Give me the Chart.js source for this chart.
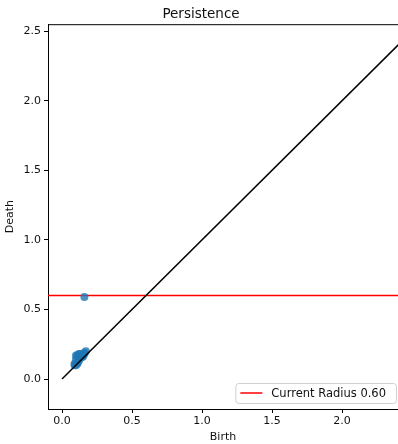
<!DOCTYPE html>
<html>
<head>
<meta charset="utf-8">
<script src="https://cdn.jsdelivr.net/npm/chart.js@4.4.1/dist/chart.umd.min.js"></script>
<style>
  html, body { margin: 0; padding: 0; background: #fff; overflow: hidden; }
  #wrap { width: 398px; height: 444px; overflow: hidden; }
</style>
</head>
<body>
<div id="wrap"><canvas id="persistenceChart" width="402" height="444"></canvas></div>
<script>
// persistence pairs
const birth = [0.09, 0.10, 0.11, 0.12, 0.13, 0.14, 0.15, 0.16, 0.17, 0.10, 0.11, 0.12, 0.13, 0.14, 0.09, 0.10, 0.12, 0.15, 0.16, 0.11, 0.16];
const death = [0.11, 0.14, 0.17, 0.18, 0.18, 0.16, 0.17, 0.18, 0.20, 0.10, 0.12, 0.14, 0.15, 0.17, 0.10, 0.17, 0.13, 0.16, 0.19, 0.11, 0.59];
const diagonal = [0, 2.6];
const radius = 0.60;
const xRange = [-0.1, 2.4];
const yRange = [-0.215, 2.55];
const xTicks = [0, 0.5, 1.0, 1.5, 2.0];
const yTicks = [0, 0.5, 1.0, 1.5, 2.0, 2.5];

const font = 'DejaVu Sans';

const pairs = birth.map((b, i) => ({x: b, y: death[i]}));

const extras = {
  id: 'extras',
  afterDraw(chart) {
    const {ctx, chartArea} = chart;
    ctx.save();
    // top spine
    ctx.strokeStyle = '#000';
    ctx.lineWidth = 1;
    ctx.beginPath();
    ctx.moveTo(chartArea.left, chartArea.top + 0.5);
    ctx.lineTo(chartArea.right, chartArea.top + 0.5);
    ctx.stroke();

    // legend, lower right
    const ds = chart.data.datasets[2];
    ctx.font = '11.5px ' + font;
    const tw = ctx.measureText(ds.label).width;
    const w = tw + 46, h = 20;
    const x = chartArea.right - 2 - w, y = chartArea.bottom - 6 - h;
    ctx.fillStyle = 'rgba(255,255,255,0.85)';
    ctx.strokeStyle = '#d0d0d0';
    ctx.lineWidth = 1;
    ctx.beginPath();
    ctx.roundRect(x + 0.5, y + 0.5, w, h, 3);
    ctx.fill();
    ctx.stroke();
    ctx.strokeStyle = ds.borderColor;
    ctx.lineWidth = 1.5;
    ctx.beginPath();
    ctx.moveTo(x + 5, y + h / 2);
    ctx.lineTo(x + 27, y + h / 2);
    ctx.stroke();
    ctx.fillStyle = '#111';
    ctx.textBaseline = 'middle';
    ctx.fillText(ds.label, x + 36, y + h / 2 + 1);
    ctx.restore();
  }
};

new Chart(document.getElementById('persistenceChart'), {
  type: 'scatter',
  data: {
    datasets: [
      {
        label: 'diagonal',
        type: 'line',
        data: diagonal.map(v => ({x: v, y: v})),
        borderColor: '#000',
        borderWidth: 1.5,
        pointRadius: 0,
        order: 0
      },
      {
        label: 'H0',
        data: pairs,
        backgroundColor: 'rgba(31,119,180,0.8)',
        borderWidth: 0,
        pointRadius: 4,
        order: 1
      },
      {
        label: 'Current Radius ' + radius.toFixed(2),
        type: 'line',
        data: xRange.map(v => ({x: v, y: radius})),
        borderColor: '#ff0000',
        borderWidth: 1.5,
        pointRadius: 0,
        order: 2
      }
    ]
  },
  options: {
    responsive: false,
    animation: false,
    layout: { padding: 0 },
    plugins: {
      legend: { display: false },
      tooltip: { enabled: false },
      title: {
        display: true,
        text: 'Persistence',
        color: '#111',
        font: { family: font, size: 13.5, weight: 'normal' },
        padding: { top: 6, bottom: 2 }
      }
    },
    scales: {
      x: {
        type: 'linear',
        min: xRange[0],
        max: xRange[1],
        afterBuildTicks: s => { s.ticks = xTicks.map(v => ({value: v})); },
        afterFit: s => { s.height = 35; },
        grid: { drawOnChartArea: false, tickLength: 4, color: '#000' },
        border: { display: true, color: '#000', width: 1 },
        ticks: {
          color: '#111',
          padding: 2,
          maxRotation: 0,
          font: { family: font, size: 11 },
          callback: v => v.toFixed(1)
        },
        title: {
          display: true,
          text: 'Birth',
          color: '#111',
          font: { family: font, size: 11 },
          padding: { top: 0, bottom: 0 }
        }
      },
      y: {
        type: 'linear',
        min: yRange[0],
        max: yRange[1],
        afterBuildTicks: s => { s.ticks = yTicks.map(v => ({value: v})); },
        afterFit: s => { s.width = 48; },
        grid: { drawOnChartArea: false, tickLength: 4, color: '#000' },
        border: { display: true, color: '#000', width: 1 },
        ticks: {
          color: '#111',
          padding: 3,
          font: { family: font, size: 11 },
          callback: v => v.toFixed(1)
        },
        title: {
          display: true,
          text: 'Death',
          color: '#111',
          font: { family: font, size: 11 },
          padding: { top: 4, bottom: 0 }
        }
      }
    }
  },
  plugins: [extras]
});
</script>
</body>
</html>
